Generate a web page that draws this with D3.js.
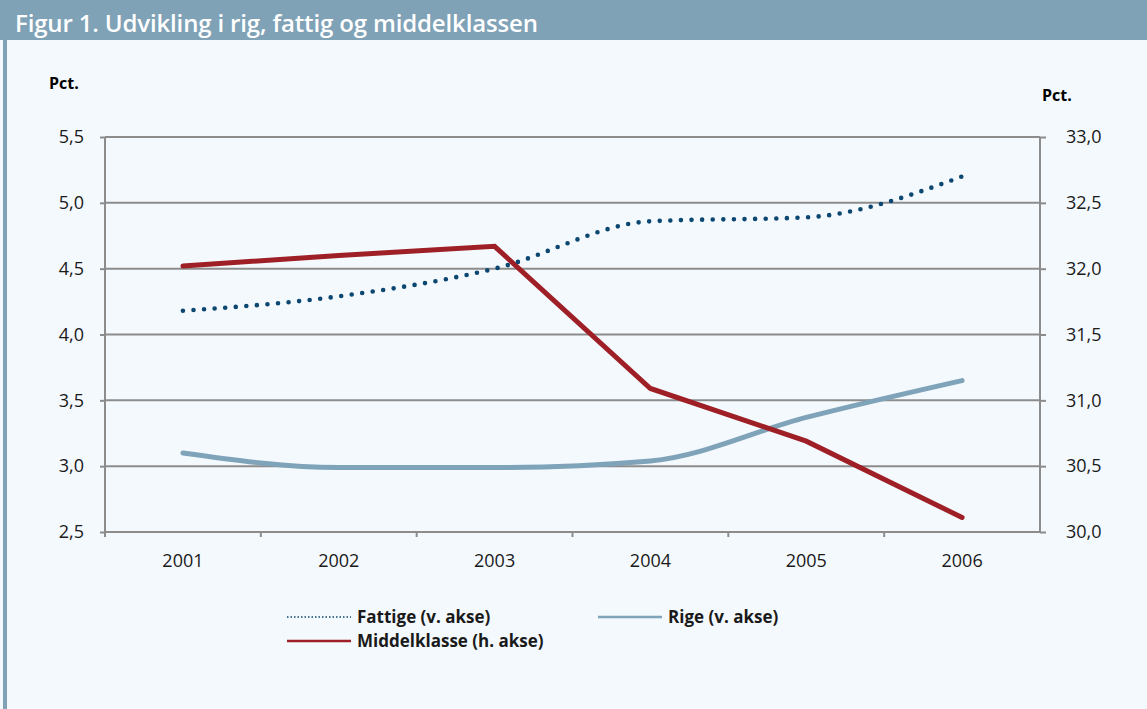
<!DOCTYPE html>
<meta charset="utf-8">
<script src="https://d3js.org/d3.v7.min.js"></script>
<style>
  body { margin: 0; background: #f4f9fd; }
  text { font-family: "Open Sans", "Noto Sans", sans-serif; }
</style>
<div id="my_dataviz"></div>
<script>

// Data
var years = ["2001", "2002", "2003", "2004", "2005", "2006"];
var fattige = [4.18, 4.29, 4.50, 4.86, 4.89, 5.20];      // v. akse
var rige = [3.10, 2.99, 2.99, 3.04, 3.37, 3.65];         // v. akse
var middelklasse = [32.02, 32.10, 32.17, 31.09, 30.69, 30.11]; // h. akse
var leftTicks = [2.5, 3.0, 3.5, 4.0, 4.5, 5.0, 5.5];
var rightTicks = [30.0, 30.5, 31.0, 31.5, 32.0, 32.5, 33.0];

var W = 1147, H = 709;
var margin = { top: 137, right: 107, bottom: 177, left: 105 },
    width = W - margin.left - margin.right,
    height = H - margin.top - margin.bottom;

var svg = d3.select("#my_dataviz")
  .append("svg")
    .attr("width", W)
    .attr("height", H);

// Background + frame
svg.append("rect").attr("width", W).attr("height", H).style("fill", "#f4f9fd");
svg.append("rect").attr("x", 0).attr("y", 0).attr("width", W).attr("height", 40).style("fill", "#7fa2b7");
svg.append("rect").attr("x", 3).attr("y", 40).attr("width", 4).attr("height", H - 40).style("fill", "#7fa2b7");
svg.append("text")
  .attr("x", 15).attr("y", 32)
  .style("fill", "white")
  .style("font-size", "24px")
  .style("font-weight", "600")
  .style("letter-spacing", "-0.15px")
  .text("Figur 1. Udvikling i rig, fattig og middelklassen");

var g = svg.append("g")
  .attr("transform", "translate(" + margin.left + "," + margin.top + ")");

// Scales
var x = d3.scaleBand().domain(years).range([0, width]);
var yL = d3.scaleLinear().domain([2.5, 5.5]).range([height, 0]);
var yR = d3.scaleLinear().domain([30, 33]).range([height, 0]);

var fmt = function(d) { return d3.format(".1f")(d).replace(".", ","); };

// Gridlines
g.append("g")
  .selectAll("line")
  .data(leftTicks)
  .enter()
  .append("line")
    .attr("x1", 0).attr("x2", width)
    .attr("y1", function(d) { return yL(d); })
    .attr("y2", function(d) { return yL(d); })
    .style("stroke", "#8c8c8c")
    .style("stroke-width", 2);

// Left axis
var axL = g.append("g")
  .call(d3.axisLeft(yL).tickValues(leftTicks).tickFormat(fmt).tickSize(5).tickPadding(16));
// Right axis
var axR = g.append("g")
  .attr("transform", "translate(" + width + ",0)")
  .call(d3.axisRight(yR).tickValues(rightTicks).tickFormat(fmt).tickSize(6).tickPadding(20));
// Bottom axis: ticks at band edges
var axB = g.append("g")
  .attr("transform", "translate(0," + height + ")")
  .call(d3.axisBottom(x).tickSize(0).tickPadding(22));
axB.selectAll(".tick line").remove();
axB.append("g")
  .selectAll("line")
  .data(years)
  .enter()
  .append("line")
    .attr("x1", function(d) { return x(d); })
    .attr("x2", function(d) { return x(d); })
    .attr("y1", 0).attr("y2", 5);

[axL, axR, axB].forEach(function(a) {
  a.selectAll(".domain, line").style("stroke", "#8c8c8c").style("stroke-width", 2);
  a.selectAll("text").style("font-size", "18px").style("fill", "#1a1a1a")
    .style("font-family", "'Open Sans', sans-serif");
});
axL.select(".domain").attr("d", "M0," + height + "V0");
axR.select(".domain").attr("d", "M0," + height + "V0");
axB.select(".domain").attr("d", "M0,0H" + width);

// Axis titles
svg.append("text").attr("x", 49).attr("y", 89)
  .style("font-size", "16px").style("font-weight", "bold").text("Pct.");
svg.append("text").attr("x", 1042).attr("y", 101)
  .style("font-size", "16px").style("font-weight", "bold").text("Pct.");

var cx = function(d, i) { return x(years[i]) + x.bandwidth() / 2; };

// Lines
var lineRige = d3.line().x(cx).y(function(d) { return yL(d); }).curve(d3.curveMonotoneX);
var lineFattige = d3.line().x(cx).y(function(d) { return yL(d); }).curve(d3.curveMonotoneX);
var lineMiddel = d3.line().x(cx).y(function(d) { return yR(d); });

g.append("path").datum(rige)
  .attr("d", lineRige)
  .style("fill", "none").style("stroke", "#7fa3b9").style("stroke-width", 5)
  .style("stroke-linecap", "round").style("stroke-linejoin", "round");

g.append("path").datum(middelklasse)
  .attr("d", lineMiddel)
  .style("fill", "none").style("stroke", "#9e1f25").style("stroke-width", 5)
  .style("stroke-linecap", "round");

g.append("path").datum(fattige)
  .attr("d", lineFattige)
  .style("fill", "none").style("stroke", "#0b4771").style("stroke-width", 4.6)
  .style("stroke-linecap", "round").style("stroke-dasharray", "0 10.6");

// Legend
var legendData = [
  { name: "Fattige (v. akse)", color: "#0b4771", dotted: true, x: 287, y: 617 },
  { name: "Rige (v. akse)", color: "#7fa3b9", dotted: false, x: 598, y: 617 },
  { name: "Middelklasse (h. akse)", color: "#9e1f25", dotted: false, x: 287, y: 641 }
];
var legends = svg.append("g").selectAll("g")
  .data(legendData)
  .enter()
  .append("g")
    .attr("transform", function(d) { return "translate(" + d.x + "," + d.y + ")"; });
legends.append("line")
  .attr("x1", 0).attr("x2", 64)
  .attr("y1", 0).attr("y2", 0)
  .style("stroke", function(d) { return d.color; })
  .style("stroke-width", function(d) { return d.dotted ? 1.5 : 2.5; })
  .style("stroke-dasharray", function(d) { return d.dotted ? "1.5 2" : null; });
legends.append("text")
  .attr("x", 70).attr("y", 6)
  .style("font-size", "17px").style("font-weight", "bold").style("fill", "#1a1a1a")
  .text(function(d) { return d.name; });

</script>
